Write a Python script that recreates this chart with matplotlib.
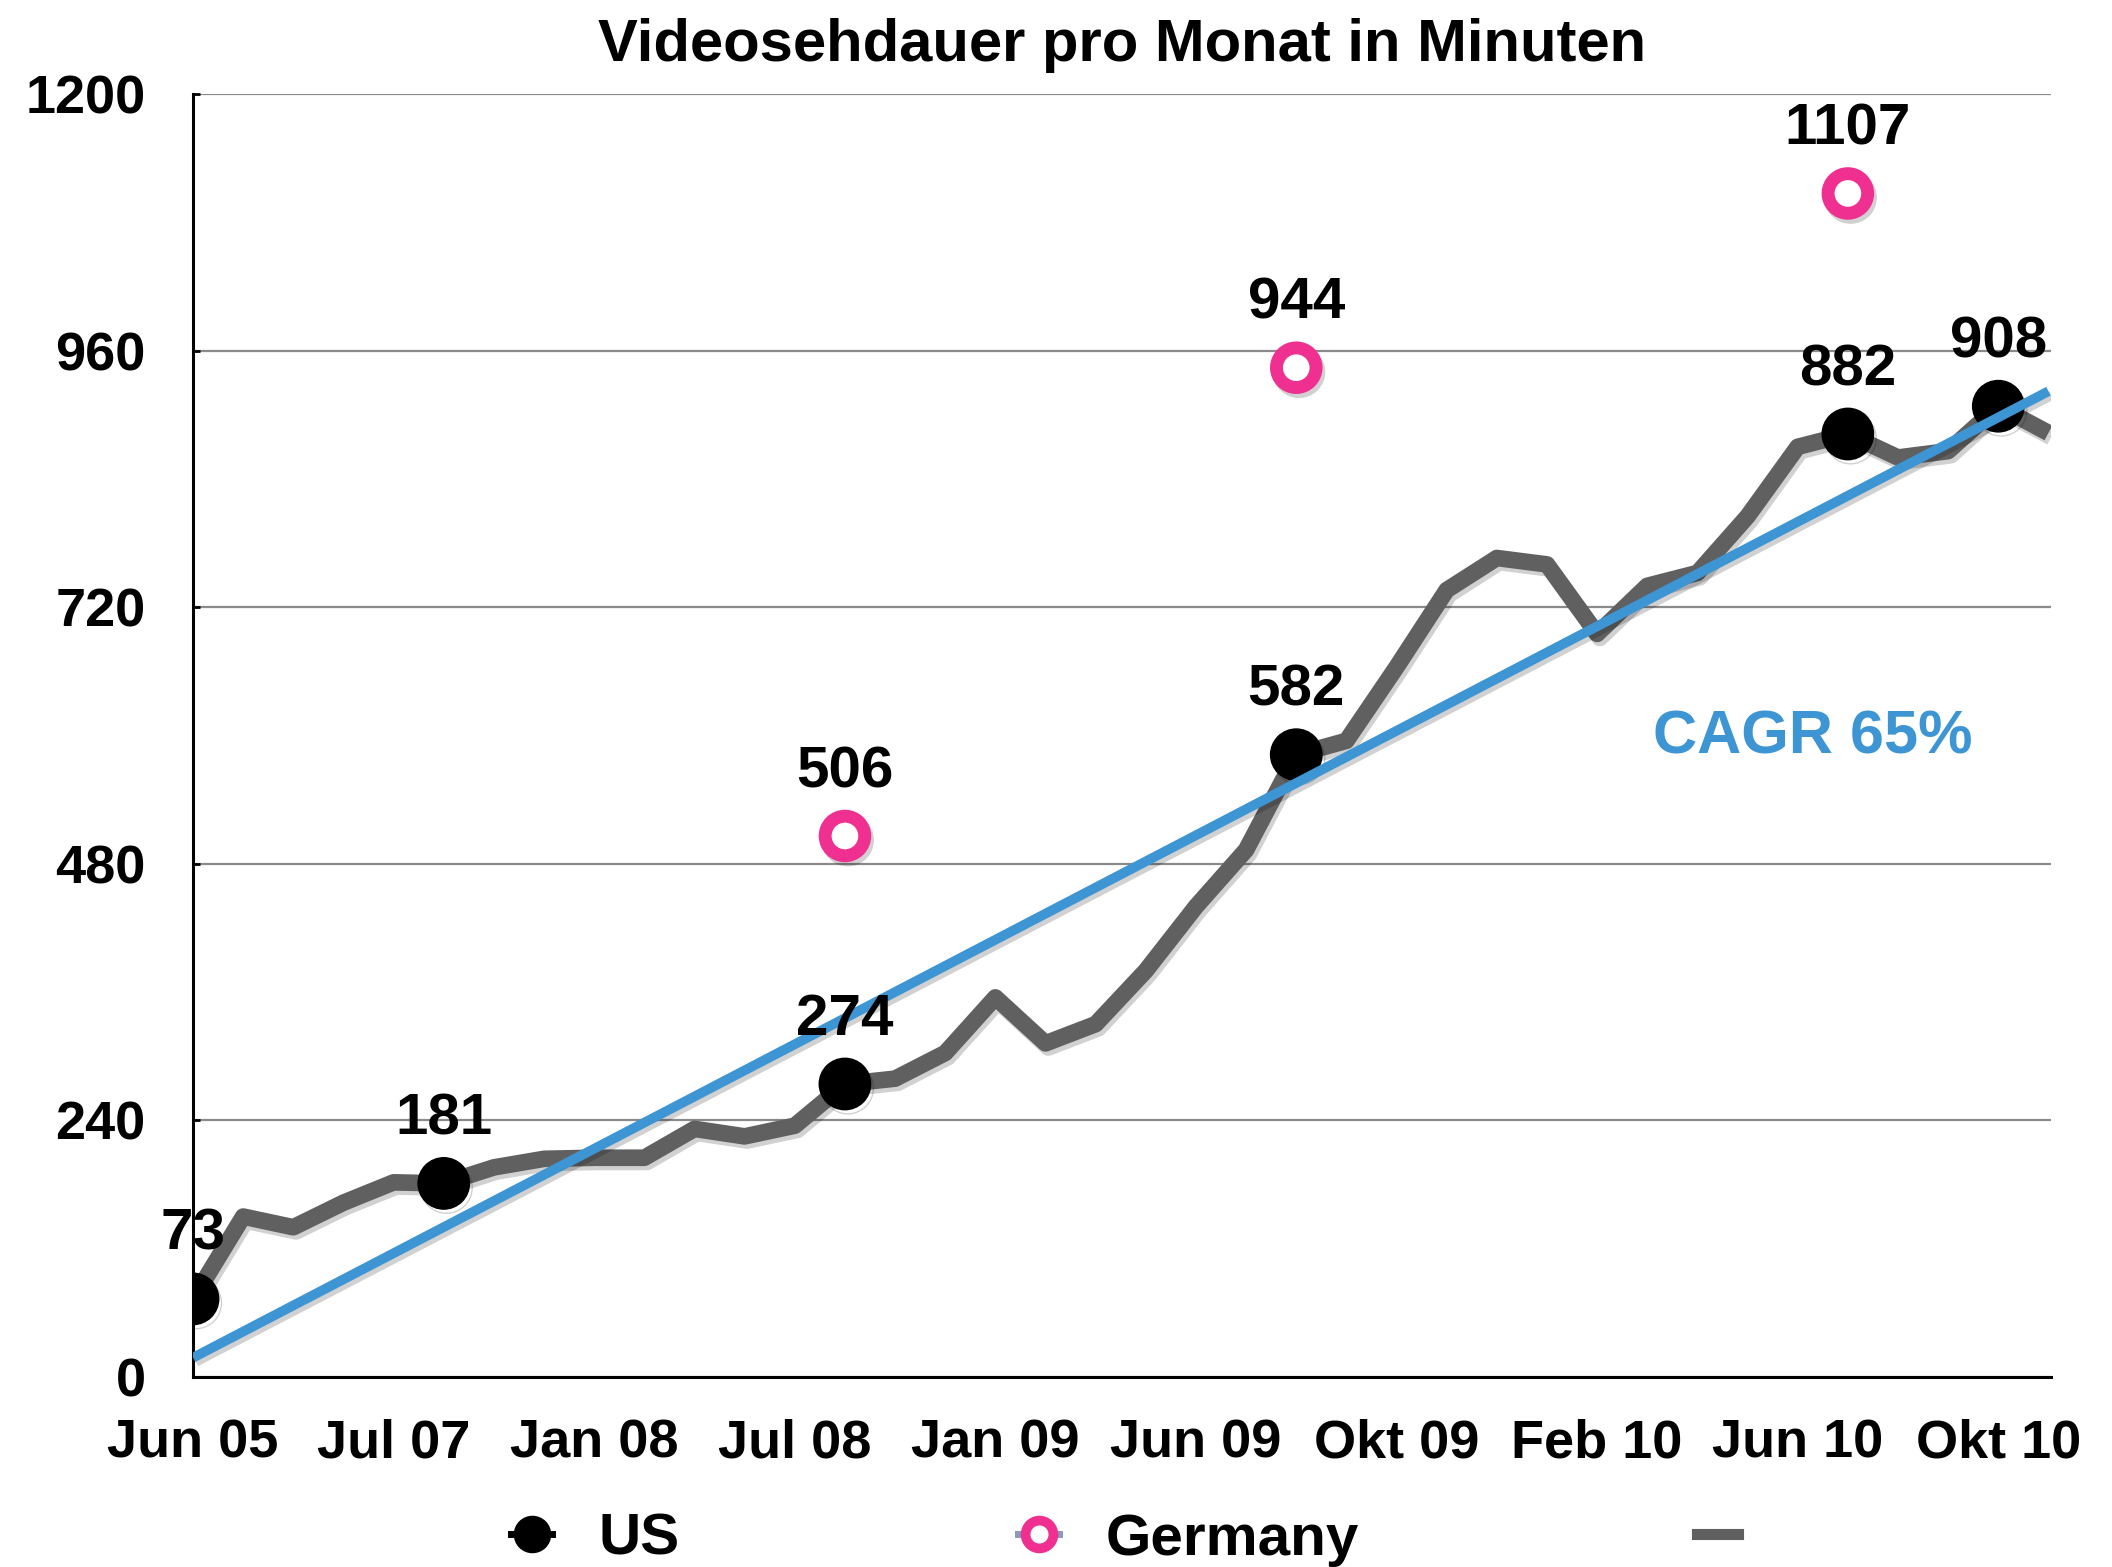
import numpy as np
import matplotlib
matplotlib.use("Agg")
import matplotlib.pyplot as plt
import matplotlib.patheffects as pe
from matplotlib.lines import Line2D

plt.rcParams['font.family'] = ['Liberation Sans', 'DejaVu Sans']
plt.rcParams['font.weight'] = 'bold'

# monthly-ish sample index of the US curve (0..37)
us_curve = [73, 150, 140, 163, 182, 181, 196, 204, 205, 205,
            232, 225, 235, 274, 279, 303, 355, 312, 330, 380,
            440, 493, 582, 595, 664, 736, 766, 760, 695, 740,
            752, 805, 870, 882, 860, 866, 908, 883]

us_idx = [0, 5, 13, 22, 33, 36]
us_vals = [73, 181, 274, 582, 882, 908]

de_idx = [13, 22, 33]
de_vals = [506, 944, 1107]

trend_x = [0, 37]
trend_y = [18, 922]

tick_pos = [0, 4, 8, 12, 16, 20, 24, 28, 32, 36]
tick_labels = ['Jun 05', 'Jul 07', 'Jan 08', 'Jul 08', 'Jan 09',
               'Jun 09', 'Okt 09', 'Feb 10', 'Jun 10', 'Okt 10']
y_ticks = [0, 240, 480, 720, 960, 1200]

cagr_pos = (32.3, 598)

gray = '#606060'
blue = '#3d95d3'
pink = '#f03090'

fig = plt.figure(figsize=(21.12, 15.67), dpi=100)
ax = fig.add_axes([0.0914, 0.1213, 0.8797, 0.8187])

shadow = [pe.SimpleLineShadow(offset=(2, -3), alpha=0.18, shadow_color='black'), pe.Normal()]

ax.plot(range(len(us_curve)), us_curve, color=gray, lw=12, solid_joinstyle='round',
        solid_capstyle='butt', zorder=3, path_effects=shadow)
ax.plot(us_idx, us_vals, 'o', color='black', ms=37, zorder=4, path_effects=shadow)
ax.plot(trend_x, trend_y, color=blue, lw=7, zorder=5, solid_capstyle='butt',
        path_effects=shadow)
ax.plot(de_idx, de_vals, 'o', mfc='white', mec=pink, ms=28.5, mew=9.3, zorder=6,
        path_effects=shadow)

for x, v in zip(us_idx, us_vals):
    ax.annotate(str(v), (x, v), xytext=(0, 46), textcoords='offset points',
                ha='center', va='center', fontsize=42, fontweight='bold', zorder=8)
for x, v in zip(de_idx, de_vals):
    ax.annotate(str(v), (x, v), xytext=(0, 46), textcoords='offset points',
                ha='center', va='center', fontsize=42, fontweight='bold', zorder=8)

ax.text(cagr_pos[0], cagr_pos[1], 'CAGR 65%', color=blue, fontsize=44,
        fontweight='bold', ha='center', va='center')

ax.set_xlim(0, 37.05)
ax.set_ylim(0, 1200)
ax.set_yticks(y_ticks)
ax.set_yticklabels([str(t) for t in y_ticks])
ax.set_xticks(tick_pos)
ax.set_xticklabels(tick_labels)
ax.grid(axis='y', color='#8a8a8a', lw=1.6, zorder=1)
ax.set_axisbelow(True)

ax.spines['top'].set_visible(False)
ax.spines['right'].set_visible(False)
ax.spines['left'].set_linewidth(2.2)
ax.spines['bottom'].set_linewidth(2.2)
ax.tick_params(axis='y', direction='in', length=5, width=2, pad=34, labelsize=39)
ax.tick_params(axis='x', length=0, pad=30, labelsize=39)

ax.set_title('Videosehdauer pro Monat in Minuten', fontsize=43, fontweight='bold', pad=24)

handles = [
    Line2D([], [], color='black', lw=5, marker='o', ms=26, mfc='black', mec='black'),
    Line2D([], [], color='#8899bb', lw=5, marker='o', ms=20, mfc='white', mec=pink, mew=7),
    Line2D([], [], color=gray, lw=8),
]
ax.legend(handles, ['US', 'Germany', ''], loc='center', ncol=3,
          bbox_to_anchor=(0.514, -0.127), frameon=False, fontsize=42,
          handlelength=0.7, handletextpad=0.8, columnspacing=5.8,
          borderpad=0, borderaxespad=0)

fig.savefig('out.png', dpi=100)
